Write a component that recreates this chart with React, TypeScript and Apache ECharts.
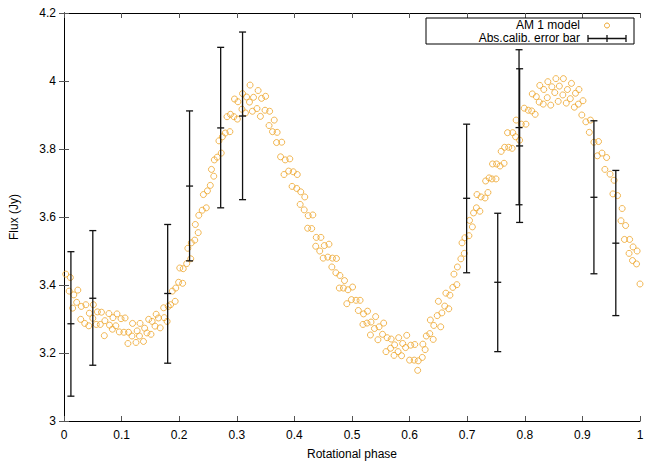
import React, { useEffect, useRef } from "react";
import * as echarts from "echarts";

// AM 1 model points: rotational phase and flux (Jy)
const modelPhase = [
  0.003, 0.011, 0.009, 0.017, 0.015, 0.024, 0.022, 0.030, 0.029, 0.038,
  0.036, 0.043, 0.044, 0.051, 0.050, 0.058, 0.056, 0.065, 0.063, 0.070,
  0.071, 0.078, 0.079, 0.084, 0.085, 0.092, 0.090, 0.096, 0.099, 0.104,
  0.106, 0.111, 0.112, 0.119, 0.118, 0.125, 0.127, 0.131, 0.132, 0.138,
  0.140, 0.144, 0.147, 0.151, 0.153, 0.160, 0.158, 0.164, 0.167, 0.173,
  0.174, 0.179, 0.181, 0.188, 0.185, 0.194, 0.193, 0.199, 0.201, 0.206,
  0.207, 0.213, 0.215, 0.220, 0.221, 0.227, 0.228, 0.233, 0.234, 0.240,
  0.247, 0.242, 0.249, 0.254, 0.260, 0.256, 0.261, 0.266, 0.273, 0.269,
  0.275, 0.280, 0.288, 0.283, 0.289, 0.295, 0.301, 0.296, 0.302, 0.309,
  0.315, 0.310, 0.317, 0.322, 0.329, 0.327, 0.335, 0.323, 0.337, 0.343,
  0.350, 0.341, 0.349, 0.357, 0.365, 0.356, 0.362, 0.370, 0.369, 0.378,
  0.376, 0.384, 0.392, 0.382, 0.390, 0.398, 0.405, 0.396, 0.404, 0.411,
  0.418, 0.410, 0.417, 0.424, 0.432, 0.423, 0.430, 0.438, 0.446, 0.437,
  0.444, 0.452, 0.460, 0.450, 0.458, 0.466, 0.473, 0.465, 0.472, 0.479,
  0.487, 0.478, 0.485, 0.493, 0.501, 0.491, 0.499, 0.507, 0.514, 0.511,
  0.520, 0.527, 0.519, 0.526, 0.533, 0.541, 0.539, 0.547, 0.555, 0.532,
  0.553, 0.545, 0.561, 0.568, 0.581, 0.595, 0.574, 0.567, 0.559, 0.588,
  0.593, 0.580, 0.573, 0.586, 0.602, 0.609, 0.600, 0.608, 0.615, 0.622,
  0.614, 0.623, 0.627, 0.629, 0.635, 0.641, 0.636, 0.642, 0.654, 0.648,
  0.656, 0.661, 0.668, 0.650, 0.663, 0.670, 0.675, 0.682, 0.677, 0.683,
  0.689, 0.695, 0.691, 0.696, 0.703, 0.709, 0.704, 0.711, 0.716, 0.722,
  0.717, 0.724, 0.731, 0.736, 0.732, 0.738, 0.743, 0.750, 0.744, 0.751,
  0.757, 0.764, 0.759, 0.765, 0.772, 0.778, 0.770, 0.779, 0.784, 0.791,
  0.785, 0.794, 0.802, 0.799, 0.806, 0.812, 0.818, 0.813, 0.820, 0.825,
  0.832, 0.826, 0.833, 0.840, 0.847, 0.839, 0.845, 0.854, 0.852, 0.860,
  0.858, 0.867, 0.866, 0.874, 0.872, 0.881, 0.879, 0.888, 0.886, 0.894,
  0.893, 0.901, 0.899, 0.906, 0.914, 0.912, 0.920, 0.928, 0.926, 0.934,
  0.942, 0.939, 0.948, 0.955, 0.953, 0.961, 0.969, 0.967, 0.975, 0.973,
  0.982, 0.988, 0.981, 0.987, 0.995, 0.994, 1.000,
];
const modelFlux = [
  3.432, 3.422, 3.382, 3.371, 3.332, 3.385, 3.349, 3.337, 3.299, 3.342,
  3.287, 3.280, 3.317, 3.342, 3.302, 3.321, 3.284, 3.320, 3.284, 3.251,
  3.295, 3.316, 3.282, 3.270, 3.304, 3.315, 3.280, 3.262, 3.301, 3.261,
  3.303, 3.228, 3.261, 3.287, 3.250, 3.231, 3.265, 3.250, 3.287, 3.234,
  3.273, 3.259, 3.299, 3.255, 3.293, 3.314, 3.279, 3.303, 3.274, 3.333,
  3.304, 3.293, 3.337, 3.382, 3.342, 3.391, 3.352, 3.408, 3.450, 3.405,
  3.448, 3.463, 3.508, 3.477, 3.524, 3.532, 3.578, 3.554, 3.605, 3.620,
  3.627, 3.666, 3.677, 3.693, 3.720, 3.740, 3.768, 3.776, 3.788, 3.824,
  3.836, 3.847, 3.851, 3.895, 3.902, 3.895, 3.888, 3.947, 3.939, 3.917,
  3.906, 3.963, 3.953, 3.938, 3.952, 3.911, 3.919, 3.988, 3.972, 3.949,
  3.955, 3.896, 3.914, 3.911, 3.885, 3.869, 3.851, 3.849, 3.819, 3.820,
  3.777, 3.768, 3.771, 3.725, 3.735, 3.733, 3.725, 3.690, 3.684, 3.674,
  3.659, 3.637, 3.621, 3.604, 3.606, 3.567, 3.566, 3.540, 3.540, 3.514,
  3.500, 3.516, 3.520, 3.479, 3.482, 3.479, 3.478, 3.453, 3.436, 3.428,
  3.413, 3.391, 3.391, 3.386, 3.394, 3.345, 3.357, 3.355, 3.355, 3.325,
  3.315, 3.323, 3.284, 3.288, 3.291, 3.307, 3.272, 3.277, 3.288, 3.253,
  3.255, 3.239, 3.245, 3.241, 3.245, 3.252, 3.224, 3.214, 3.204, 3.228,
  3.216, 3.204, 3.193, 3.192, 3.223, 3.225, 3.179, 3.179, 3.177, 3.187,
  3.149, 3.226, 3.210, 3.250, 3.257, 3.240, 3.297, 3.281, 3.277, 3.310,
  3.318, 3.338, 3.330, 3.352, 3.376, 3.370, 3.393, 3.401, 3.432, 3.453,
  3.477, 3.493, 3.524, 3.539, 3.545, 3.571, 3.590, 3.612, 3.627, 3.617,
  3.666, 3.659, 3.656, 3.672, 3.706, 3.715, 3.712, 3.712, 3.756, 3.756,
  3.750, 3.758, 3.793, 3.805, 3.805, 3.802, 3.848, 3.848, 3.836, 3.826,
  3.885, 3.873, 3.873, 3.920, 3.914, 3.912, 3.902, 3.962, 3.954, 3.938,
  3.932, 3.987, 3.975, 3.998, 3.983, 3.951, 3.929, 4.007, 3.966, 3.985,
  3.940, 4.007, 3.959, 3.975, 3.935, 3.993, 3.948, 3.964, 3.923, 3.975,
  3.932, 3.942, 3.900, 3.880, 3.885, 3.849, 3.820, 3.822, 3.780, 3.788,
  3.775, 3.740, 3.726, 3.708, 3.668, 3.663, 3.625, 3.589, 3.575, 3.534,
  3.534, 3.512, 3.493, 3.472, 3.500, 3.462, 3.403,
];

// Absolute calibration error bars
const errPhase = [0.012, 0.050, 0.180, 0.218, 0.272, 0.310, 0.699, 0.753, 0.790, 0.791, 0.920, 0.958];
const errFlux = [3.286, 3.361, 3.375, 3.691, 3.862, 3.897, 3.655, 3.408, 3.863, 3.809, 3.658, 3.523];
const errLow = [3.073, 3.164, 3.170, 3.471, 3.627, 3.651, 3.436, 3.204, 3.636, 3.584, 3.433, 3.310];
const errHigh = [3.498, 3.560, 3.578, 3.912, 4.099, 4.144, 3.873, 3.611, 4.092, 4.036, 3.883, 3.737];

const FONT = "Liberation Sans";
const ORANGE = "#eea52a";

export default function App() {
  const ref = useRef<HTMLDivElement>(null);
  useEffect(() => {
    if (!ref.current) return;
    const chart = echarts.init(ref.current, undefined, { renderer: "svg" });
    const scatterData = modelPhase.map((p, i) => [p, modelFlux[i]]);
    const errData = errPhase.map((p, i) => [p, errFlux[i], errLow[i], errHigh[i]]);
    const axisLine = { show: true, lineStyle: { color: "#000", width: 1 } };
    const axisTick = { show: true, inside: true, length: 5, lineStyle: { color: "#555", width: 1 } };
    const labelStyle = { color: "#000", fontFamily: FONT, fontSize: 12 };
    const option: any = {
      animation: false,
      backgroundColor: "#fff",
      grid: { left: 62, right: 24, top: 13, bottom: 41, containLabel: false },
      xAxis: [
        {
          type: "value", min: 0, max: 1, interval: 0.1, position: "bottom",
          axisLine, axisTick, splitLine: { show: false },
          axisLabel: { ...labelStyle, margin: 8 },
          name: "Rotational phase", nameLocation: "middle", nameGap: 27,
          nameTextStyle: { ...labelStyle },
        },
        {
          type: "value", min: 0, max: 1, interval: 0.1, position: "top",
          axisLine, axisTick, splitLine: { show: false }, axisLabel: { show: false },
        },
      ],
      yAxis: [
        {
          type: "value", min: 3, max: 4.2, interval: 0.2, position: "left",
          axisLine, axisTick, splitLine: { show: false },
          axisLabel: { ...labelStyle, margin: 8 },
          name: "Flux (Jy)", nameLocation: "middle", nameGap: 44,
          nameTextStyle: { ...labelStyle },
        },
        {
          type: "value", min: 3, max: 4.2, interval: 0.2, position: "right",
          axisLine, axisTick, splitLine: { show: false }, axisLabel: { show: false },
        },
      ],
      series: [
        {
          name: "AM 1 model",
          type: "scatter",
          data: scatterData,
          symbol: "circle",
          symbolSize: 6,
          itemStyle: { color: "rgba(0,0,0,0)", borderColor: ORANGE, borderWidth: 1 },
          z: 2,
        },
        {
          name: "Abs.calib. error bar",
          type: "custom",
          data: errData,
          z: 3,
          renderItem: (params: any, api: any) => {
            const x = api.value(0);
            const pc = api.coord([x, api.value(1)]);
            const pl = api.coord([x, api.value(2)]);
            const ph = api.coord([x, api.value(3)]);
            const w = 3.5;
            const st = { stroke: "#111", lineWidth: 1.3 };
            return {
              type: "group",
              children: [
                { type: "line", shape: { x1: pl[0], y1: pl[1], x2: ph[0], y2: ph[1] }, style: st },
                { type: "line", shape: { x1: ph[0] - w, y1: ph[1], x2: ph[0] + w, y2: ph[1] }, style: st },
                { type: "line", shape: { x1: pl[0] - w, y1: pl[1], x2: pl[0] + w, y2: pl[1] }, style: st },
                { type: "line", shape: { x1: pc[0] - w, y1: pc[1], x2: pc[0] + w, y2: pc[1] }, style: st },
              ],
            };
          },
        },
      ],
      graphic: [
        {
          type: "rect", z: 10,
          shape: { x: 426, y: 18, width: 208, height: 26 },
          style: { fill: "#fff", stroke: "#000", lineWidth: 1 },
        },
        {
          type: "text", z: 11, x: 580, y: 25,
          style: { text: "AM 1 model", fill: "#000", font: `12px "${FONT}"`, textAlign: "right", textVerticalAlign: "middle" },
        },
        {
          type: "text", z: 11, x: 580, y: 38,
          style: { text: "Abs.calib. error bar", fill: "#000", font: `12px "${FONT}"`, textAlign: "right", textVerticalAlign: "middle" },
        },
        {
          type: "circle", z: 11, shape: { cx: 607, cy: 25.5, r: 2.5 },
          style: { fill: "none", stroke: ORANGE, lineWidth: 1 },
        },
        { type: "line", z: 11, shape: { x1: 588, y1: 38.5, x2: 626, y2: 38.5 }, style: { stroke: "#111", lineWidth: 1.3 } },
        { type: "line", z: 11, shape: { x1: 588, y1: 35, x2: 588, y2: 42 }, style: { stroke: "#111", lineWidth: 1.3 } },
        { type: "line", z: 11, shape: { x1: 626, y1: 35, x2: 626, y2: 42 }, style: { stroke: "#111", lineWidth: 1.3 } },
        { type: "line", z: 11, shape: { x1: 607, y1: 35, x2: 607, y2: 42 }, style: { stroke: "#111", lineWidth: 1.3 } },
      ],
    };
    chart.setOption(option);
    return () => chart.dispose();
  }, []);
  return <div ref={ref} style={{ width: 664, height: 465, position: "absolute", left: 0, top: 0 }} />;
}
